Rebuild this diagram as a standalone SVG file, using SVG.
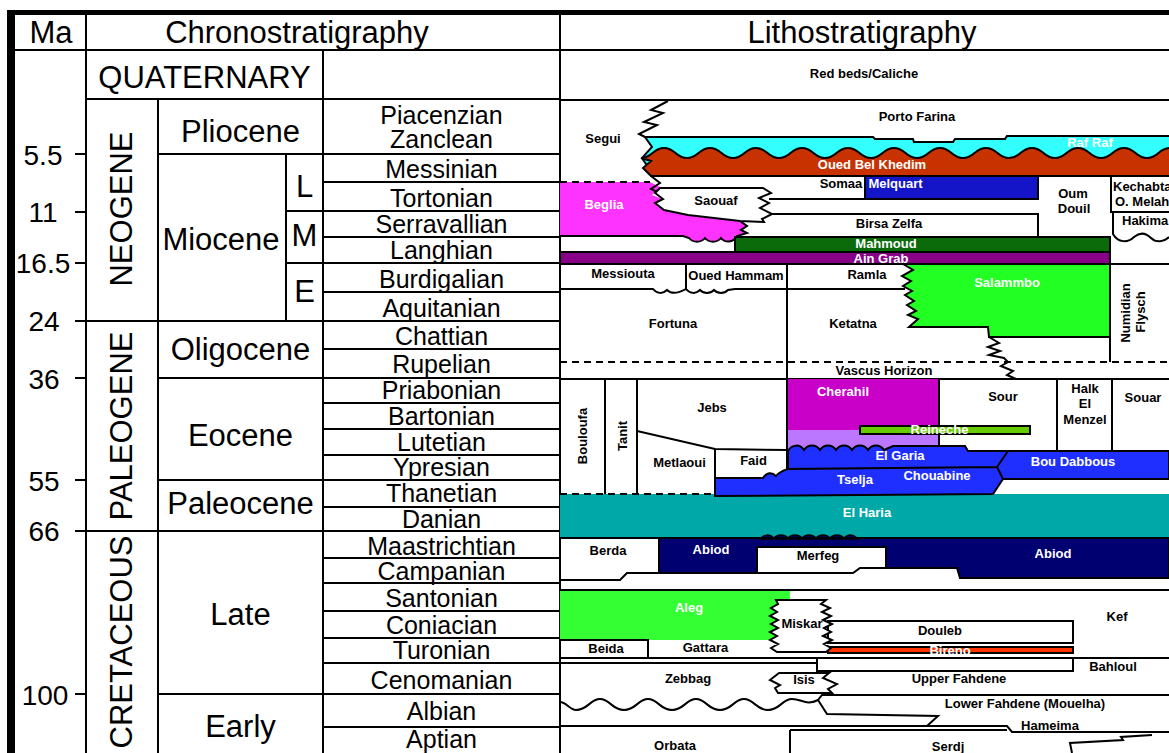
<svg xmlns="http://www.w3.org/2000/svg" width="1169" height="753" viewBox="0 0 1169 753">
<style>
.ln{stroke:#000;stroke-width:2;fill:none}
.sk{stroke:#000;stroke-width:2;stroke-linejoin:miter}
.dash{stroke:#000;stroke-width:2;stroke-dasharray:7 5;fill:none}
.t{font-family:"Liberation Sans",Arial,sans-serif;fill:#000}
.hd{font-size:31px;text-anchor:middle}
.ep{font-size:31px;text-anchor:middle}
.st{font-size:25px;text-anchor:middle}
.ma{font-size:28px;text-anchor:middle}
.lb{font-family:"Liberation Sans",Arial,sans-serif;font-weight:bold;font-size:13px;text-anchor:middle;fill:#000}
.w{fill:#fff}
</style>
<rect width="1169" height="753" fill="#fff"/>

<g id="frame">
<rect x="7" y="10" width="8" height="743" fill="#000"/>
<rect x="7" y="10" width="1162" height="5" fill="#000"/>
<path class="ln" d="M15,50 H1169 M86,15 V753 M560,15 V753"/>
<text class="t hd" x="51" y="43">Ma</text>
<text class="t hd" x="297" y="43">Chronostratigraphy</text>
<text class="t hd" x="862" y="43">Lithostratigraphy</text>
</g>

<g id="chrono-grid">
<path class="ln" d="M323,50 V753 M158,99 V753 M286,154 V321
M86,99 H560 M158,154 H560 M323,182 H560 M286,211 H560 M323,237 H560 M286,263 H560 M323,292 H560
M75,321 H560 M323,349 H560 M158,378 H560 M323,403 H560 M323,429 H560 M323,455 H560 M158,480 H560
M323,507 H560 M75,531 H560 M323,558 H560 M323,583 H560 M323,611 H560 M323,638 H560 M323,663 H560
M158,694 H560 M323,727 H560
M75,154 H86 M75,212 H86 M75,263 H86 M75,378 H86 M75,480 H86 M75,694 H86"/>
</g>

<g id="ma-scale">
<text class="t ma" x="43" y="165">5.5</text>
<text class="t ma" x="43" y="222">11</text>
<text class="t ma" x="43" y="273">16.5</text>
<text class="t ma" x="44" y="331">24</text>
<text class="t ma" x="44" y="389">36</text>
<text class="t ma" x="44" y="491">55</text>
<text class="t ma" x="44" y="541">66</text>
<text class="t ma" x="45" y="705">100</text>
</g>

<g id="eras">
<text class="t ep" x="204.5" y="88">QUATERNARY</text>
<text class="t ep" transform="translate(132,209) rotate(-90)">NEOGENE</text>
<text class="t ep" transform="translate(132,426) rotate(-90)">PALEOGENE</text>
<text class="t ep" transform="translate(132,642) rotate(-90)">CRETACEOUS</text>
</g>

<g id="epochs">
<text class="t ep" x="240.5" y="142">Pliocene</text>
<text class="t ep" x="221" y="250">Miocene</text>
<text class="t ep" x="304.5" y="197">L</text>
<text class="t ep" x="304.5" y="246">M</text>
<text class="t ep" x="304.5" y="302">E</text>
<text class="t ep" x="240.5" y="360">Oligocene</text>
<text class="t ep" x="240.5" y="446">Eocene</text>
<text class="t ep" x="240.5" y="514">Paleocene</text>
<text class="t ep" x="240.5" y="625">Late</text>
<text class="t ep" x="240.5" y="737">Early</text>
</g>

<g id="stages">
<text class="t st" x="441.5" y="124">Piacenzian</text>
<text class="t st" x="441.5" y="148">Zanclean</text>
<text class="t st" x="441.5" y="178">Messinian</text>
<text class="t st" x="441.5" y="207">Tortonian</text>
<text class="t st" x="441.5" y="233">Serravallian</text>
<text class="t st" x="441.5" y="259">Langhian</text>
<text class="t st" x="441.5" y="288">Burdigalian</text>
<text class="t st" x="441.5" y="317">Aquitanian</text>
<text class="t st" x="441.5" y="345">Chattian</text>
<text class="t st" x="441.5" y="373">Rupelian</text>
<text class="t st" x="441.5" y="399">Priabonian</text>
<text class="t st" x="441.5" y="425">Bartonian</text>
<text class="t st" x="441.5" y="451">Lutetian</text>
<text class="t st" x="441.5" y="476">Ypresian</text>
<text class="t st" x="441.5" y="502">Thanetian</text>
<text class="t st" x="441.5" y="528">Danian</text>
<text class="t st" x="441.5" y="555">Maastrichtian</text>
<text class="t st" x="441.5" y="580">Campanian</text>
<text class="t st" x="441.5" y="607">Santonian</text>
<text class="t st" x="441.5" y="634">Coniacian</text>
<text class="t st" x="441.5" y="659">Turonian</text>
<text class="t st" x="441.5" y="689">Cenomanian</text>
<text class="t st" x="441.5" y="720">Albian</text>
<text class="t st" x="441.5" y="748">Aptian</text>
</g>

<!-- Lithostratigraphy -->
<g id="red-beds">
<path class="ln" d="M560,100 H1169"/>
<text class="lb" x="864" y="77.5">Red beds/Caliche</text>
</g>

<g id="porto-farina">
<text class="lb" x="917" y="120.5">Porto Farina</text>
</g>

<g id="segui">
<polyline class="ln" points="668,101 651,110 663,113 644,122 657,125 639,134 645,137"/>
<text class="lb" x="603" y="142.5">Segui</text>
</g>

<g id="raf-raf">
<path class="sk" fill="#33FFFF" d="M645,137 L873,137 L875,139 L913,139 L914,142 L953,142 L955,139 L1005,139 L1007,136 L1175,136 L1175,170 L650,170 L642,158 L652,147 Z"/>
<text class="lb w" x="1090" y="147">Raf Raf</text>
</g>

<g id="oued-bel-khedim">
<path class="sk" fill="#C83200" d="M651,176 L643,168 L651,161 L641,158 C652.5,158 652.5,148 664,148 C675.5,148 675.5,158 687,158 C698.5,158 698.5,148 710,148 C721.5,148 721.5,158 733,158 C744.5,158 744.5,148 756,148 C767.5,148 767.5,158 779,158 C790.5,158 790.5,148 802,148 C813.5,148 813.5,158 825,158 C836.5,158 836.5,148 848,148 C859.5,148 859.5,158 871,158 C882.5,158 882.5,148 894,148 C905.5,148 905.5,158 917,158 C928.5,158 928.5,148 940,148 C951.5,148 951.5,158 963,158 C974.5,158 974.5,148 986,148 C997.5,148 997.5,158 1009,158 C1020.5,158 1020.5,148 1032,148 C1043.5,148 1043.5,158 1055,158 C1066.5,158 1066.5,148 1078,148 C1089.5,148 1089.5,158 1101,158 C1112.5,158 1112.5,148 1124,148 C1135.5,148 1135.5,158 1147,158 C1158.5,158 1158.5,148 1170,148 C1181.5,148 1181.5,158 1193,158 L1193,176 Z"/>
<text class="lb w" x="872" y="168.5">Oued Bel Khedim</text>
</g>

<g id="beglia">
<path fill="#FF33FF" d="M560,182 L650,182 L660,187 L652,195 L663,199 L655,203 L664,210 L688,215 L740,221 L747,226 L741,230 L747,233 L737,236 C733,243 725,243 721,238 C717,243 709,243 705,238 C701,243 693,243 689,238 L683,236 L560,236 Z"/>
<path class="ln" d="M740,221 L747,226 L741,230 L747,233 L737,236 C733,243 725,243 721,238 C717,243 709,243 705,238 C701,243 693,243 689,238 L683,236 L560,236"/>
<path class="dash" d="M560,182 H650"/>
<text class="lb w" x="604" y="208.5">Beglia</text>
</g>

<g id="somaa">
<polyline class="ln" points="651,176 660,183 651,189 663,195"/>
<path class="ln" d="M769,199 H865"/>
<text class="lb" x="841" y="187.5">Somaa</text>
</g>

<g id="saouaf">
<path class="sk" fill="#fff" d="M660,188 L763,188 L771,193 L759,198 L769,203 L760,208 L772,214 L762,219 L764,222 L740,221 L688,215 L664,210 L655,203 L663,199 L655,193 Z"/>
<text class="lb" x="716" y="204.5">Saouaf</text>
</g>

<g id="melquart">
<rect class="sk" x="865" y="176" width="173" height="23" fill="#1414C8"/>
<text class="lb w" x="895.5" y="187.5">Melquart</text>
</g>

<g id="birsa-zelfa">
<path class="ln" d="M772,214 H1038 V237"/>
<text class="lb" x="889" y="227.5">Birsa Zelfa</text>
</g>

<g id="oum-douil">
<text class="lb" x="1073" y="197.5">Oum</text>
<text class="lb" x="1074" y="212.5">Douil</text>
</g>

<g id="kechabta">
<path class="ln" d="M1111,176 V212 H1169"/>
<text class="lb" x="1113" y="190.5" style="text-anchor:start">Kechabta</text>
<text class="lb" x="1115" y="205.5" style="text-anchor:start">O. Melah</text>
</g>

<g id="hakima">
<path class="ln" d="M1113,212 V234 C1118,243 1128,243 1134,237 C1140,232 1146,233 1151,238 C1156,243 1164,242 1169,237"/>
<text class="lb" x="1122" y="224.5" style="text-anchor:start">Hakima</text>
</g>

<g id="mahmoud">
<path class="ln" d="M560,252 H735"/>
<rect class="sk" x="735" y="237" width="375" height="15" fill="#0B6B0B"/>
<text class="lb w" x="886" y="247.5">Mahmoud</text>
</g>

<g id="ain-grab">
<rect class="sk" x="560" y="252" width="550" height="12" fill="#880088"/>
<path class="ln" d="M1110,264 H1169"/>
<text class="lb w" x="881" y="262.5">Ain Grab</text>
</g>

<g id="messiouta">
<path class="ln" d="M560,289 H653 C657,294 663,294 667,290 C671,294 677,294 686,289 C690,294 696,294 700,290 C704,294 710,294 714,290 C718,294 724,294 728,290 L735,289 H905 M686,264 V289"/>
<text class="lb" x="623" y="277.5">Messiouta</text>
</g>

<g id="oued-hammam">
<text class="lb" x="736" y="279.5">Oued Hammam</text>
</g>

<g id="ramla">
<path class="ln" d="M787,264 V379"/>
<text class="lb" x="867" y="278.5">Ramla</text>
</g>

<g id="salammbo">
<path class="sk" fill="#22FF22" d="M903,264 L913,270 L902,276 L911,281 L903,286 L912,291 L905,295 L914,301 L907,305 L916,311 L908,315 L918,319 L909,327 L988,327 L989,337 L1110,337 L1110,264 Z"/>
<polyline class="ln" points="989,337 999,343 988,347 1000,351 989,355 1004,358 1008,362 1001,366 1013,371 1007,375 1016,379"/>
<text class="lb w" x="1007" y="286.5">Salammbo</text>
</g>

<g id="numidian-flysch">
<path class="ln" d="M1110,264 V362"/>
<text class="lb" transform="translate(1130,313) rotate(-90)">Numidian</text>
<text class="lb" transform="translate(1145,312) rotate(-90)">Flysch</text>
</g>

<g id="fortuna">
<text class="lb" x="673" y="327.5">Fortuna</text>
</g>
<g id="ketatna">
<text class="lb" x="853" y="327.5">Ketatna</text>
</g>

<g id="vascus-horizon">
<path class="dash" d="M560,362 H1169"/>
<path class="ln" d="M560,379 H1169"/>
<text class="lb" x="884" y="374.5">Vascus Horizon</text>
</g>

<g id="el-haria">
<rect x="560" y="494" width="609" height="44" fill="#00A8A8"/>
<path class="dash" d="M560,494 H715"/>
<text class="lb w" x="867" y="516.5">El Haria</text>
</g>

<g id="cherahil">
<rect x="788" y="379" width="151" height="51" fill="#C800C8"/>
<rect x="788" y="430" width="151" height="22" fill="#BB77FF"/>
<text class="lb w" x="843" y="395.5">Cherahil</text>
</g>

<g id="bouloufa">
<path class="ln" d="M605,379 V494"/>
<text class="lb" transform="translate(587,436) rotate(-90)">Bouloufa</text>
</g>
<g id="tanit">
<path class="ln" d="M637,379 V494"/>
<text class="lb" transform="translate(626.5,436) rotate(-90)">Tanit</text>
</g>
<g id="jebs">
<path class="ln" d="M787,379 V470"/>
<text class="lb" x="712" y="412">Jebs</text>
</g>
<g id="metlaoui">
<path class="ln" d="M637,431 L715,449 L788,450"/>
<text class="lb" x="679.5" y="466.5">Metlaoui</text>
</g>
<g id="faid">
<path class="ln" d="M715,449 V478"/>
<text class="lb" x="753.5" y="464.5">Faid</text>
</g>

<g id="sour">
<path class="ln" d="M939,379 V451 M1057,379 V451 M1112,379 V451"/>
<text class="lb" x="1003" y="400.5">Sour</text>
</g>
<g id="halk-el-menzel">
<text class="lb" x="1085" y="392.5">Halk</text>
<text class="lb" x="1085" y="408">El</text>
<text class="lb" x="1085" y="423.5">Menzel</text>
</g>
<g id="souar">
<text class="lb" x="1143" y="401.5">Souar</text>
</g>

<g id="el-garia">
<path class="sk" fill="#1F2FFF" d="M715,496 L715,478 L763,478 C767,472 772,472 776,476 C780,471 785,470 788,469 L788,451 C792,444 800,444 804,450 C808,444 816,444 820,450 C824,444 832,444 836,450 C840,444 848,444 852,450 C856,444 864,444 868,450 C872,444 880,444 884,450 L893,446 L965,446 L968,451 L1169,451 L1169,479 L1003,479 L993,494 Z"/>
<path class="ln" d="M788,469 L997,467 M1008,451 L997,467 L1003,479"/>
<text class="lb w" x="900" y="459.5">El Garia</text>
</g>
<g id="bou-dabbous">
<text class="lb w" x="1073" y="465.5">Bou Dabbous</text>
</g>
<g id="chouabine">
<text class="lb w" x="937" y="479.5">Chouabine</text>
</g>
<g id="tselja">
<text class="lb w" x="855" y="483.5">Tselja</text>
</g>

<g id="reineche">
<rect class="sk" x="860" y="426" width="170" height="8" fill="#66CC00"/>
<text class="lb w" x="939.5" y="433.5">Reineche</text>
</g>

<g id="abiod">
<path class="sk" fill="#000070" d="M659,538 L1169,538 L1169,578 L960,578 L957,568 L886,568 L886,547 L757,547 L757,573 L659,573 Z"/>
<path fill="#000070" stroke="#000" stroke-width="1.5" d="M760,539 C764,534 770,534 774,538 C778,534 784,534 788,538 C792,534 798,534 802,538 C806,534 812,534 816,538 C820,534 826,534 830,538 C834,534 840,534 844,538 C848,534 854,534 858,539 Z"/>
<path class="ln" d="M560,538 H1169"/>
<text class="lb w" x="711" y="553.5">Abiod</text>
<text class="lb w" x="1053" y="557.5">Abiod</text>
</g>
<g id="berda">
<path class="ln" d="M560,580 L620,580 L627,573 L659,573"/>
<text class="lb" x="608" y="554.5">Berda</text>
</g>
<g id="merfeg">
<path class="sk" fill="#fff" d="M757,547 L886,547 L886,568 L860,568 L853,573 L757,573 Z"/>
<text class="lb" x="818" y="559.5">Merfeg</text>
</g>

<g id="aleg">
<rect x="560" y="590" width="230" height="50" fill="#33FF33"/>
<path class="ln" d="M560,590 H1169"/>
<text class="lb w" x="689" y="611.5">Aleg</text>
</g>
<g id="kef">
<text class="lb" x="1117" y="620.5">Kef</text>
</g>
<g id="douleb">
<rect class="sk" x="828" y="621" width="245" height="22" fill="#fff"/>
<text class="lb" x="940" y="634.5">Douleb</text>
</g>
<g id="bireno">
<rect class="sk" x="828" y="647" width="245" height="6" fill="#FF3300"/>
<text class="lb w" x="950" y="654.5">Bireno</text>
</g>
<g id="miskar">
<path class="sk" fill="#fff" d="M776,600 L826,600 L821,604 L830,608 L822,612 L831,616 L823,620 L832,624 L824,628 L831,632 L823,636 L832,640 L824,644 L831,648 L826,652 L777,652 L771,648 L778,644 L770,640 L777,636 L770,632 L778,628 L771,624 L778,620 L770,616 L777,612 L771,608 L778,604 Z"/>
<text class="lb" x="802" y="627.5">Miskar</text>
</g>
<g id="beida">
<path class="ln" d="M560,640 H648 V658"/>
<text class="lb" x="606" y="652.5">Beida</text>
</g>
<g id="gattara">
<text class="lb" x="705.5" y="651.5">Gattara</text>
</g>
<g id="bahloul">
<path class="ln" d="M560,658 H1169 M560,663 H817 M817,658 V671 H1073 V658"/>
<text class="lb" x="1113" y="670.5">Bahloul</text>
</g>
<g id="zebbag">
<path class="ln" d="M560,702 C566,702 570,710 576,710 C588,710 590,699 600,699 C610,699 612,710 624,710 C636,710 638,699 648,699 C658,699 660,710 672,710 C684,710 686,699 696,699 C706,699 708,710 720,710 C732,710 734,699 744,699 C754,699 756,710 768,710 C780,710 782,699 792,699 C802,699 806,706 818,700 L822,695 H1169"/>
<text class="lb" x="688" y="682.5">Zebbag</text>
</g>
<g id="isis">
<path class="sk" fill="#fff" d="M779,673 L829,673 L823,678 L837,684 L828,689 L832,693 L778,693 L775,688 L780,685 L770,680 Z"/>
<text class="lb" x="804" y="683.5">Isis</text>
</g>
<g id="upper-fahdene">
<text class="lb" x="959" y="682.5">Upper Fahdene</text>
</g>
<g id="lower-fahdene">
<path class="ln" d="M818,700 L827,714 L938,716 L927,726"/>
<text class="lb" x="1025" y="707.5">Lower Fahdene (Mouelha)</text>
</g>
<g id="hameima">
<path class="ln" d="M560,726 H1007 L1012,732 H1169 M790,730 H1007"/>
<text class="lb" x="1050" y="729.5">Hameima</text>
</g>
<g id="orbata">
<path class="ln" d="M790,730 V753"/>
<text class="lb" x="675" y="749.5">Orbata</text>
</g>
<g id="serdj">
<polyline class="ln" points="1072,753 1070,743 1123,740 1121,737 1152,735"/>
<text class="lb" x="948" y="750.5">Serdj</text>
</g>
</svg>
